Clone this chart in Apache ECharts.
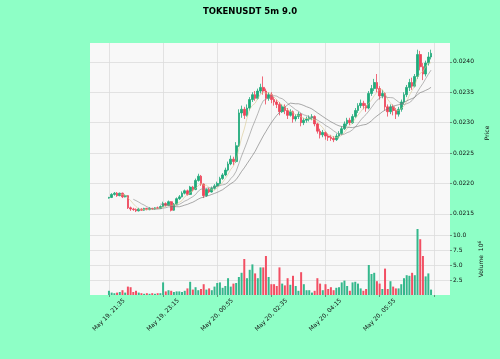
<!DOCTYPE html>
<html><head><meta charset="utf-8">
<script src="https://cdn.jsdelivr.net/npm/echarts@6/dist/echarts.min.js"></script>
<style>html,body{margin:0;padding:0;background:#8effc6;} #c{width:500px;height:359px;}</style>
</head><body><div id="c"></div>
<script>
const chartTitle = 'TOKENUSDT 5m 9.0';
const opens = [
0.02176,0.02177,0.02182,0.02184,0.02180,0.02184,0.02178,0.02180,0.02160,0.02158,
0.02157,0.02155,0.02158,0.02156,0.02159,0.02157,0.02159,0.02158,0.02160,0.02159,
0.02162,0.02167,0.02164,0.02170,0.02156,0.02166,0.02175,0.02178,0.02184,0.02188,
0.02182,0.02194,0.02190,0.02205,0.02212,0.02199,0.02180,0.02190,0.02186,0.02192,
0.02196,0.02200,0.02208,0.02214,0.02222,0.02232,0.02240,0.02236,0.02262,0.02316,
0.02322,0.02312,0.02324,0.02338,0.02346,0.02340,0.02352,0.02358,0.02352,0.02340,
0.02346,0.02338,0.02334,0.02330,0.02318,0.02326,0.02320,0.02312,0.02318,0.02306,
0.02310,0.02314,0.02300,0.02304,0.02306,0.02308,0.02310,0.02298,0.02286,0.02280,
0.02284,0.02278,0.02276,0.02274,0.02272,0.02278,0.02282,0.02290,0.02298,0.02304,
0.02300,0.02310,0.02320,0.02328,0.02332,0.02328,0.02324,0.02348,0.02356,0.02366,
0.02356,0.02344,0.02348,0.02326,0.02318,0.02326,0.02320,0.02314,0.02322,0.02334,
0.02346,0.02358,0.02366,0.02360,0.02376,0.02412,0.02392,0.02380,0.02398,0.02408];
const highs = [
0.02178,0.02184,0.02186,0.02186,0.02185,0.02185,0.02182,0.02181,0.02162,0.02160,
0.02159,0.02160,0.02159,0.02160,0.02160,0.02161,0.02160,0.02161,0.02162,0.02164,
0.02170,0.02169,0.02172,0.02171,0.02168,0.02177,0.02181,0.02187,0.02190,0.02190,
0.02196,0.02196,0.02208,0.02216,0.02214,0.02200,0.02192,0.02193,0.02195,0.02199,
0.02203,0.02211,0.02217,0.02226,0.02236,0.02246,0.02244,0.02268,0.02322,0.02328,
0.02326,0.02330,0.02342,0.02350,0.02352,0.02356,0.02364,0.02376,0.02356,0.02350,
0.02350,0.02342,0.02338,0.02334,0.02330,0.02330,0.02324,0.02322,0.02320,0.02314,
0.02318,0.02316,0.02308,0.02310,0.02312,0.02314,0.02312,0.02300,0.02290,0.02288,
0.02286,0.02282,0.02280,0.02278,0.02282,0.02286,0.02294,0.02302,0.02308,0.02308,
0.02314,0.02324,0.02332,0.02338,0.02336,0.02332,0.02352,0.02362,0.02372,0.02380,
0.02360,0.02354,0.02350,0.02330,0.02330,0.02330,0.02324,0.02326,0.02338,0.02350,
0.02362,0.02372,0.02374,0.02380,0.02420,0.02418,0.02398,0.02402,0.02416,0.02420];
const lows = [
0.02175,0.02176,0.02180,0.02178,0.02179,0.02176,0.02177,0.02158,0.02155,0.02155,
0.02153,0.02154,0.02155,0.02155,0.02156,0.02156,0.02157,0.02157,0.02158,0.02158,
0.02161,0.02162,0.02163,0.02154,0.02155,0.02165,0.02173,0.02177,0.02182,0.02180,
0.02181,0.02187,0.02189,0.02203,0.02196,0.02176,0.02178,0.02184,0.02185,0.02190,
0.02194,0.02198,0.02206,0.02212,0.02220,0.02230,0.02230,0.02234,0.02260,0.02308,
0.02306,0.02310,0.02320,0.02334,0.02336,0.02338,0.02348,0.02346,0.02330,0.02336,
0.02332,0.02328,0.02324,0.02312,0.02316,0.02314,0.02306,0.02310,0.02300,0.02302,
0.02306,0.02294,0.02296,0.02300,0.02302,0.02304,0.02294,0.02282,0.02274,0.02276,
0.02272,0.02270,0.02270,0.02268,0.02270,0.02274,0.02280,0.02288,0.02294,0.02296,
0.02298,0.02308,0.02316,0.02324,0.02322,0.02318,0.02322,0.02344,0.02352,0.02350,
0.02338,0.02340,0.02320,0.02310,0.02314,0.02312,0.02306,0.02310,0.02318,0.02330,
0.02342,0.02352,0.02354,0.02358,0.02372,0.02386,0.02370,0.02376,0.02394,0.02404];
const closes = [
0.02177,0.02182,0.02184,0.02180,0.02184,0.02178,0.02180,0.02160,0.02158,0.02157,
0.02155,0.02158,0.02156,0.02159,0.02157,0.02159,0.02158,0.02160,0.02159,0.02162,
0.02167,0.02164,0.02170,0.02156,0.02166,0.02175,0.02178,0.02184,0.02188,0.02182,
0.02194,0.02190,0.02205,0.02212,0.02199,0.02180,0.02190,0.02186,0.02192,0.02196,
0.02200,0.02208,0.02214,0.02222,0.02232,0.02240,0.02236,0.02262,0.02316,0.02322,
0.02312,0.02324,0.02338,0.02346,0.02340,0.02352,0.02358,0.02352,0.02340,0.02346,
0.02338,0.02334,0.02330,0.02318,0.02326,0.02320,0.02312,0.02318,0.02306,0.02310,
0.02314,0.02300,0.02304,0.02306,0.02308,0.02310,0.02298,0.02286,0.02280,0.02284,
0.02278,0.02276,0.02274,0.02272,0.02278,0.02282,0.02290,0.02298,0.02304,0.02300,
0.02310,0.02320,0.02328,0.02332,0.02328,0.02324,0.02348,0.02356,0.02366,0.02356,
0.02344,0.02348,0.02326,0.02318,0.02326,0.02320,0.02314,0.02322,0.02334,0.02346,
0.02358,0.02366,0.02360,0.02376,0.02412,0.02392,0.02380,0.02398,0.02408,0.02414];
// volume in units of 10^6
const volumes = [
0.7,0.4,0.3,0.4,0.5,0.8,0.4,1.4,1.3,0.5,
0.7,0.4,0.3,0.2,0.3,0.2,0.3,0.2,0.3,0.3,
2.1,0.6,0.8,0.7,0.5,0.6,0.6,0.5,0.7,1.1,
2.2,0.9,1.3,0.8,1.0,1.8,0.9,1.1,0.8,1.4,
2.0,2.1,1.2,1.5,2.8,1.4,1.9,2.0,3.0,3.7,
6.0,2.8,4.2,5.1,3.6,2.8,4.6,4.6,6.5,3.0,
1.8,1.8,1.5,4.6,1.9,1.6,2.8,1.7,3.2,1.5,
0.7,3.8,1.8,0.8,0.8,0.4,0.7,2.8,1.9,0.8,
1.8,1.0,1.3,0.8,1.2,1.3,2.1,2.4,1.5,0.7,
2.1,2.2,1.9,1.1,0.7,1.0,5.0,3.5,3.7,2.3,
1.9,1.0,4.4,1.0,2.3,1.4,1.1,1.1,1.8,2.8,
3.3,3.2,3.7,3.3,11.0,9.3,6.5,3.1,3.6,0.9];
const tickLabels = ['May 19, 21:35','May 19, 23:15','May 20, 00:55','May 20, 02:35','May 20, 04:15','May 20, 05:55',''];
const tickStep = 20;
const mavPeriods = [5, 10, 20];
const priceTicks = [0.0215, 0.0220, 0.0225, 0.0230, 0.0235, 0.0240];
const volumeTicks = [2.5, 5.0, 7.5, 10.0];

const UP = '#1fa97a', DOWN = '#ee4459';
const padL = 7, padR = 7;
const n = closes.length;
const cats = [];
for (let i = -padL; i < n + padR; i++) cats.push(String(i));
const pad = (arr) => Array(padL).fill('-').concat(arr, Array(padR).fill('-'));
const candleData = pad(opens.map((o, i) => [o, closes[i], lows[i], highs[i]]));
const volData = pad(volumes.map((v, i) => ({value: v, itemStyle: {color: closes[i] >= opens[i] ? '#34b88c' : '#f24f63'}})));
function mav(p) {
  const out = [];
  for (let i = 0; i < n; i++) {
    if (i < p - 1) { out.push('-'); continue; }
    let s = 0; for (let k = i - p + 1; k <= i; k++) s += closes[k];
    out.push(s / p);
  }
  return pad(out);
}
const isTick = (idx) => idx >= padL && (idx - padL) % tickStep === 0;
const FONT = 'DejaVu Sans';
const FS = 6;
const gridLine = {show: true, interval: isTick, lineStyle: {color: '#dcdcdc', width: 0.8}};
const chart = echarts.init(document.getElementById('c'), null, {renderer: 'canvas'});
chart.setOption({
  backgroundColor: '#8effc6',
  animation: false,
  title: {text: chartTitle, left: 'center', top: 2, textStyle: {fontFamily: FONT, fontSize: 8.5, fontWeight: 'bold', color: '#000'}},
  grid: [
    {left: 90, right: 50, top: 43, height: 180, show: true, backgroundColor: '#f8f8f8', borderWidth: 0},
    {left: 90, right: 50, top: 223, height: 72, show: true, backgroundColor: '#f8f8f8', borderWidth: 0}
  ],
  xAxis: [
    {type: 'category', gridIndex: 0, data: cats, boundaryGap: false, axisLine: {show: false}, axisTick: {show: false}, axisLabel: {show: false}, splitLine: gridLine},
    {type: 'category', gridIndex: 1, data: cats, boundaryGap: false, axisLine: {show: false},
     axisTick: {show: true, interval: isTick, length: 2, lineStyle: {color: '#444', width: 0.6}},
     axisLabel: {show: true, interval: isTick, rotate: 45, align: 'center', verticalAlign: 'middle', margin: 20,
       fontFamily: FONT, fontSize: FS, color: '#111',
       formatter: (v, idx) => tickLabels[(Number(v)) / tickStep] || ''},
     splitLine: gridLine}
  ],
  yAxis: [
    {type: 'value', gridIndex: 0, position: 'right', min: 0.02135, max: 0.02431, scale: true,
     axisLine: {show: false},
     axisTick: {show: true, customValues: priceTicks, length: 2, lineStyle: {color: '#444', width: 0.6}},
     axisLabel: {customValues: priceTicks, fontFamily: FONT, fontSize: FS, color: '#111', margin: 3, formatter: (v) => v.toFixed(4)},
     splitLine: {show: true, lineStyle: {color: '#dcdcdc', width: 0.8}},
     name: 'Price', nameLocation: 'middle', nameRotate: 90, nameGap: 30, nameTextStyle: {fontFamily: FONT, fontSize: FS, color: '#111'}},
    {type: 'value', gridIndex: 1, position: 'right', min: 0, max: 12,
     axisLine: {show: false},
     axisTick: {show: true, customValues: volumeTicks, length: 2, lineStyle: {color: '#444', width: 0.6}},
     axisLabel: {customValues: volumeTicks, fontFamily: FONT, fontSize: FS, color: '#111', margin: 3, formatter: (v) => v.toFixed(1)},
     splitLine: {show: true, lineStyle: {color: '#dcdcdc', width: 0.8}},
     name: 'Volume  10{s|6}', nameLocation: 'middle', nameRotate: 90, nameGap: 24,
     nameTextStyle: {fontFamily: FONT, fontSize: FS, color: '#111', rich: {s: {fontFamily: FONT, fontSize: 4.5, color: '#111', verticalAlign: 'top', padding: [0,0,3,0]}}}}
  ],
  series: [
    {type: 'candlestick', xAxisIndex: 0, yAxisIndex: 0, data: candleData, barWidth: 2.2,
     itemStyle: {color: UP, color0: DOWN, borderColor: UP, borderColor0: DOWN, borderWidth: 0.8}},
    ...mavPeriods.map((p, k) => ({type: 'line', xAxisIndex: 0, yAxisIndex: 0, data: mav(p), showSymbol: false, symbol: 'none',
      lineStyle: {width: 0.6, color: ['#d8c890', '#888888', '#707070'][k]}})),
    {type: 'bar', xAxisIndex: 1, yAxisIndex: 1, data: volData, barWidth: 2}
  ]
});
</script></body></html>
